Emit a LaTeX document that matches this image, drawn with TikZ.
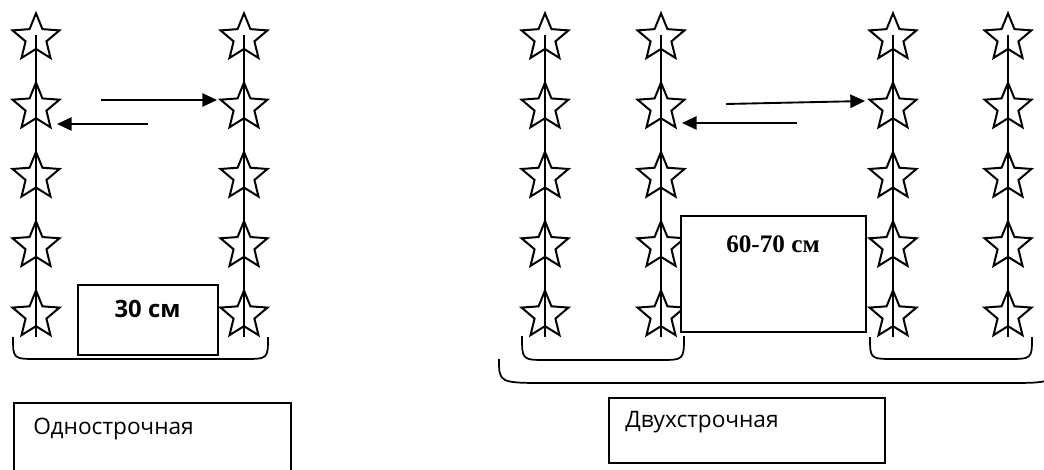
\documentclass[tikz,border=0pt]{standalone}
\usepackage{fontspec}
\usetikzlibrary{shapes.geometric,arrows.meta}
\newfontfamily\osans{Open Sans}
\newfontfamily\lserif{Liberation Serif}
\begin{document}
\begin{tikzpicture}[x=0.75pt,y=-0.75pt,
  starnode/.style={star, star points=5, star point ratio=2.25, draw, line width=1.5pt,
    minimum size=37pt, inner sep=0pt, outer sep=0pt},
  wire/.style={line width=1.2pt},
  arr/.style={line width=1.4pt, -{Triangle[length=11pt,width=10pt]}},
  box/.style={draw, line width=1.4pt, fill=white, inner sep=0pt},
  brace/.style={line width=1.3pt},
  lbl/.style={inner sep=0pt, font=\osans\fontsize{17}{20}\selectfont}]
\clip (0,0) rectangle (1044,470);
% stars and wires
\foreach \c/\x in {1/36,2/244,3/545,4/661,5/893,6/1008}{
  \foreach \r/\y in {1/38,2/107.3,3/176.6,4/245.9,5/315.2}{
    \node[starnode] (s\c-\r) at (\x,\y) {};
  }
  \coordinate (t\c) at (\x,35);
  \coordinate (b\c) at (\x,337);
  \draw[wire] (t\c) -- (b\c);
}
% arrows left group
\coordinate (a1s) at (101,100); \coordinate (a1e) at (217,100);
\coordinate (a2s) at (148,124); \coordinate (a2e) at (57,124);
\draw[arr] (a1s) -- (a1e);
\draw[arr] (a2s) -- (a2e);
% arrows right group
\coordinate (a3s) at (726,104); \coordinate (a3e) at (865,101);
\coordinate (a4s) at (797,123); \coordinate (a4e) at (682,123);
\draw[arr] (a3s) -- (a3e);
\draw[arr] (a4s) -- (a4e);
% boxes
\node[box, minimum width=105pt, minimum height=52.5pt] (b30) at (148,320) {};
\node[inner sep=0pt, anchor=base, font=\osans\bfseries\fontsize{17.9}{20}\selectfont] (t30) at (147.5,317) {30 см};
\node[box, minimum width=138.75pt, minimum height=87pt] (b60) at (773.5,274) {};
\node[inner sep=0pt, anchor=base, font=\lserif\bfseries\fontsize{18.9}{20}\selectfont] (t60) at (773,252) {60-70 см};
% braces
\coordinate (l1) at (13,337); \coordinate (l2) at (268,337);
\draw[brace] (l1) .. controls (13,359) .. (38,359) -- (243,359) .. controls (268,359) .. (l2);
\coordinate (r1) at (522,336); \coordinate (r2) at (684,336);
\draw[brace] (r1) .. controls (522,360) .. (547,360) -- (659,360) .. controls (684,360) .. (r2);
\coordinate (r3) at (870,337); \coordinate (r4) at (1032,337);
\draw[brace] (r3) .. controls (870,359) .. (895,359) -- (1007,359) .. controls (1032,359) .. (r4);
\coordinate (g1) at (499,359); \coordinate (g2) at (1054,359);
\draw[brace] (g1) .. controls (499,383) .. (548,383) -- (1005,383) .. controls (1054,383) .. (g2);
% label boxes
\node[box, anchor=north west, minimum width=207.75pt, minimum height=75pt] (lb1) at (13,402) {};
\node[lbl, anchor=base west] (lt1) at (33,434) {Однострочная};
\node[box, anchor=north west, minimum width=207pt, minimum height=48.75pt] (lb2) at (608,397) {};
\node[lbl, anchor=base west] (lt2) at (625,427) {Двухстрочная};
\end{tikzpicture}
\end{document}
